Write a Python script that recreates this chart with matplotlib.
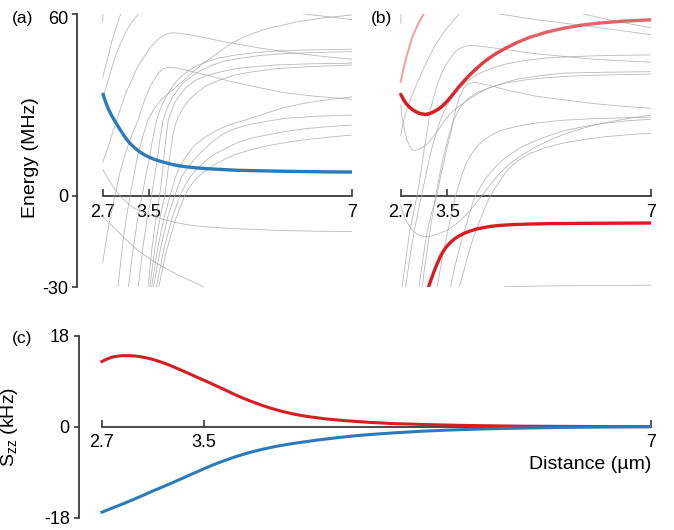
import matplotlib
matplotlib.use("Agg")
import matplotlib.pyplot as plt
import matplotlib.transforms as mtransforms
import numpy as np
from matplotlib.collections import LineCollection
from matplotlib.colors import to_rgb

plt.rcParams['font.family'] = ['Liberation Sans', 'DejaVu Sans']
plt.rcParams['mathtext.fontset'] = 'custom'
plt.rcParams['mathtext.rm'] = 'Liberation Sans'
plt.rcParams['mathtext.it'] = 'Liberation Sans'

# ---------------- data ----------------
xticks = [2.7, 3.5, 7]
xtick_labels = ['2.7', '3.5', '7']
e_ticks = [-30, 0, 60]
e_tick_labels = ['-30', '0', '60']
s_ticks = [-18, 0, 18]
s_tick_labels = ['-18', '0', '18']

# panel (a) highlighted level (blue)
a_blue_x = [2.70, 2.73, 2.76, 2.80, 2.85, 2.90, 2.95, 3.00, 3.05, 3.10, 3.15, 3.20, 3.25, 3.30, 3.35, 3.40,
            3.45, 3.50, 3.60, 3.70, 3.80, 3.90, 4.00, 4.15, 4.30, 4.50, 4.70, 5.00, 5.30, 5.70, 6.20, 6.60, 7.00]
a_blue_E = [34.0, 32.2, 30.5, 28.6, 26.7, 25.0, 23.4, 21.9, 20.4, 19.0, 17.8, 16.8, 15.9, 15.1, 14.4, 13.8,
            13.3, 12.8, 12.0, 11.4, 10.9, 10.4, 10.0, 9.6, 9.3, 9.0, 8.8, 8.5, 8.35, 8.2, 8.05, 7.95, 7.9]

# panel (b) highlighted levels (red)
b_red_up_x = [2.70, 2.75, 2.80, 2.85, 2.90, 2.95, 3.00, 3.05, 3.10, 3.15, 3.20, 3.25, 3.30, 3.35, 3.40, 3.45,
              3.50, 3.55, 3.60, 3.65, 3.70, 3.75, 3.80, 3.90, 4.00, 4.10, 4.20, 4.35, 4.50, 4.70, 4.90, 5.20,
              5.50, 5.80, 6.10, 6.50, 7.00]
b_red_up_E = [33.5, 31.7, 30.3, 29.3, 28.5, 27.9, 27.4, 27.1, 27.0, 27.0, 27.2, 27.6, 28.1, 28.7, 29.4, 30.3,
              31.3, 32.4, 33.6, 34.8, 36.0, 37.1, 38.2, 40.2, 42.0, 43.7, 45.2, 47.1, 48.7, 50.6, 52.2, 54.0,
              55.3, 56.3, 57.0, 57.6, 58.1]
b_red_faint_x = [2.70, 2.75, 2.8, 2.9, 3.0, 3.09]
b_red_faint_E = [37.7, 42.2, 46.0, 52.5, 56.8, 59.9]
b_red_low_x = [3.13, 3.16, 3.18, 3.22, 3.26, 3.30, 3.34, 3.38, 3.42, 3.46, 3.50, 3.55, 3.60, 3.65, 3.72, 3.80,
               3.90, 4.00, 4.10, 4.25, 4.40, 4.60, 4.90, 5.30, 6.00, 7.00]
b_red_low_E = [-33.0, -31.2, -29.9, -27.6, -25.5, -23.5, -21.7, -20.0, -18.6, -17.4, -16.4, -15.4, -14.5, -13.8,
               -13.0, -12.2, -11.5, -10.9, -10.5, -10.0, -9.7, -9.45, -9.25, -9.1, -9.0, -8.9]

# panel (c) Szz
c_x_red = [2.70, 2.74, 2.78, 2.82, 2.86, 2.90, 2.95, 3.00, 3.05, 3.10, 3.15, 3.20, 3.25, 3.30, 3.35, 3.40,
           3.46, 3.52, 3.58, 3.65, 3.72, 3.79, 3.87, 3.95, 4.03, 4.10, 4.20, 4.30, 4.45, 4.60, 4.80, 5.00,
           5.30, 5.60, 6.00, 6.50, 7.00]
c_red = [12.9, 13.4, 13.75, 13.95, 14.05, 14.05, 14.0, 13.85, 13.6, 13.3, 12.9, 12.45, 11.95, 11.4, 10.85, 10.3,
         9.6, 8.95, 8.25, 7.45, 6.6, 5.8, 5.0, 4.25, 3.6, 3.1, 2.5, 2.05, 1.55, 1.2, 0.85, 0.6,
         0.38, 0.22, 0.1, 0.04, 0.0]
c_x_blue = [2.70, 2.76, 2.82, 2.88, 2.95, 3.02, 3.10, 3.18, 3.25, 3.33, 3.41, 3.50, 3.58, 3.66, 3.75, 3.85,
            3.95, 4.05, 4.15, 4.27, 4.40, 4.55, 4.70, 4.85, 5.00, 5.20, 5.40, 5.65, 5.94, 6.30, 6.65, 7.00]
c_blue = [-16.9, -16.3, -15.7, -15.1, -14.35, -13.6, -12.7, -11.85, -11.1, -10.2, -9.3, -8.3, -7.45, -6.7,
          -5.9, -5.15, -4.5, -3.95, -3.5, -3.05, -2.6, -2.15, -1.75, -1.45, -1.2, -0.9, -0.68, -0.47, -0.3,
          -0.15, -0.06, 0.0]

# background levels, panel (a): (distance, energy) pairs
a_top = [(2.70, 57.5), (2.705, 60.5)]
a_lineA = [(2.70, 39), (2.74, 42.2), (2.78, 45), (2.85, 50.4), (2.93, 55.5), (3.02, 60.5)]
a_lineB = [(2.70, 32), (2.75, 35.3), (2.8, 38.5), (2.9, 45), (3.0, 50), (3.1, 54), (3.2, 57.3), (3.34, 60.5)]
a_hump1 = [(2.70, 11), (2.8, 16.5), (2.94, 25), (3.1, 34), (3.3, 42.5), (3.5, 48.5), (3.6, 50.7), (3.7, 52.3),
           (3.78, 53.2), (3.85, 53.7), (3.92, 53.8), (4.0, 53.7), (4.15, 53.3), (4.3, 52.8), (4.6, 51.6),
           (4.92, 50.4), (5.4, 48.8), (5.84, 47.5), (6.4, 46.2), (7.0, 45.1)]
a_hump2 = [(2.70, -22), (2.8, -10), (2.91, 0), (3.0, 8), (3.1, 14.5), (3.2, 20), (3.31, 25), (3.38, 29.3),
           (3.45, 33), (3.52, 36.2), (3.6, 38.8), (3.67, 40.7), (3.74, 41.9), (3.82, 42.4), (3.9, 42.4),
           (4.0, 42.1), (4.2, 41.2), (4.5, 39.8), (4.92, 37.7), (5.4, 35.7), (5.84, 34.0), (6.4, 32.8), (7.0, 31.9)]
a_rise = [(2.96, -30.5), (3.05, -15), (3.11, -7), (3.17, 0), (3.24, 7), (3.3, 13), (3.39, 19.5), (3.48, 25),
          (3.58, 28.5), (3.7, 31.5), (3.82, 33.6), (3.95, 35.7), (4.1, 38.2), (4.23, 40.5), (4.4, 43.3),
          (4.6, 46), (4.92, 50.4), (5.2, 53), (5.5, 55), (6.07, 57.5), (6.5, 58.7), (7.0, 59.7)]
a_topright = [(5.95, 60.5), (6.5, 59.3), (7.0, 58.1)]
a_p3 = [(3.14, -30.5), (3.22, -18), (3.3, -8), (3.38, 0), (3.44, 6.5), (3.5, 12), (3.56, 18.5), (3.63, 25),
        (3.7, 29), (3.8, 33), (3.9, 36), (4.0, 38.5), (4.15, 40.9), (4.3, 42.8), (4.5, 44.3), (4.7, 45.5),
        (5.0, 46.5), (5.3, 47.2), (5.7, 47.8), (6.1, 48.1), (7.0, 48.4)]
a_p4 = [(3.31, -30.5), (3.4, -16), (3.47, -7), (3.54, 0), (3.59, 6), (3.64, 12), (3.69, 19), (3.74, 25),
        (3.82, 29.3), (3.9, 32.5), (4.0, 35.3), (4.1, 37.5), (4.25, 39.7), (4.4, 41.5), (4.6, 43.2),
        (4.8, 44.5), (5.1, 45.5), (5.4, 46.3), (5.8, 46.9), (6.2, 47.2), (7.0, 47.6)]
a_p5 = [(3.48, -30.5), (3.55, -17), (3.62, -7), (3.68, 0), (3.72, 6), (3.75, 12), (3.79, 19), (3.83, 25),
        (3.89, 28.3), (3.95, 31), (4.05, 33.8), (4.15, 36), (4.3, 38.1), (4.5, 39.8), (4.75, 41), (5.0, 42),
        (5.3, 42.6), (5.7, 43.2), (6.3, 43.6), (7.0, 43.8)]
a_p6 = [(3.51, -30.5), (3.6, -17), (3.7, -6), (3.77, 0), (3.81, 6), (3.84, 11), (3.88, 16), (3.91, 20),
        (3.95, 23.3), (4.0, 26), (4.1, 29.4), (4.2, 32), (4.35, 34.5), (4.5, 36.5), (4.75, 38.5), (5.0, 40),
        (5.3, 41), (5.7, 42), (6.3, 42.7), (7.0, 43.2)]
a_p7 = [(3.54, -30.5), (3.65, -17), (3.76, -7), (3.86, 0), (3.95, 6), (4.02, 9.3), (4.1, 12), (4.2, 14.7),
        (4.3, 17), (4.5, 19.8), (4.7, 22), (4.92, 23.7), (5.15, 25), (5.5, 27.2), (5.8, 29), (6.1, 30.3),
        (6.4, 31.3), (7.0, 32.7)]
a_p8 = [(3.57, -30.5), (3.7, -17), (3.82, -7), (3.94, 0), (4.06, 6.4), (4.18, 9.8), (4.3, 12.5), (4.45, 15.4),
        (4.6, 18), (4.75, 20.1), (4.92, 21.8), (5.15, 23.2), (5.4, 24.2), (5.84, 25.6), (6.4, 26.3), (7.0, 26.7)]
a_p9 = [(3.62, -30.5), (3.76, -17), (3.9, -7), (4.03, 0), (4.12, 3.5), (4.21, 6.4), (4.35, 9.5), (4.5, 12),
        (4.65, 14), (4.8, 15.5), (5.03, 17.7), (5.25, 19.0), (5.5, 20), (5.85, 21.3), (6.2, 22.2),
        (6.6, 22.9), (7.0, 23.4)]
a_p10 = [(3.66, -30.5), (3.8, -18), (3.95, -8), (4.11, 0), (4.2, 3), (4.3, 5.5), (4.45, 8), (4.6, 10),
         (4.8, 12.1), (5.0, 13.8), (5.3, 15.5), (5.6, 16.8), (5.95, 17.9), (6.3, 18.8), (6.65, 19.5), (7.0, 20.1)]
a_low1 = [(2.70, 8.8), (2.8, 5.5), (2.9, 2.5), (3.0, 0), (3.1, -1.9), (3.2, -3.5), (3.35, -5.0), (3.5, -6.2),
          (3.65, -7.2), (3.8, -8), (4.0, -8.9), (4.2, -9.6), (4.5, -10.2), (4.9, -10.7), (5.3, -11.0),
          (5.8, -11.4), (6.4, -11.6), (7.0, -11.7)]
a_low2 = [(2.70, -6.8), (2.8, -8.7), (2.9, -10.5), (3.0, -12.4), (3.1, -14.3), (3.2, -16.1), (3.3, -17.8),
          (3.45, -19.9), (3.6, -21.8), (3.75, -23.5), (3.9, -25), (4.05, -26.5), (4.2, -27.8), (4.35, -29.1),
          (4.49, -30.5)]

# background levels, panel (b)
b_top = [(2.70, 57), (2.705, 60.5)]
b_steep = [(2.70, 20), (2.75, 25), (2.82, 29.4), (2.9, 33.5), (3.0, 38), (3.09, 42), (3.2, 46.3), (3.3, 50),
           (3.4, 52.9), (3.5, 55.5), (3.62, 58.2), (3.73, 60.5)]
b_hump1 = [(2.72, -30.5), (2.78, -22), (2.85, -12), (2.92, -5.5), (2.98, 0), (3.04, 7), (3.1, 15), (3.16, 22.2),
           (3.21, 28.4), (3.28, 33.6), (3.35, 38), (3.42, 41.3), (3.5, 44), (3.58, 46.2), (3.65, 47.8),
           (3.75, 49), (3.84, 49.5), (3.95, 49.6), (4.1, 49.3), (4.3, 48.8), (4.5, 48.3), (4.93, 47.1),
           (5.5, 46), (6.08, 45), (6.5, 44.6), (7.0, 44.1)]
b_hump2 = [(3.01, -30.5), (3.08, -21), (3.15, -12), (3.23, -5.5), (3.32, 0), (3.38, 6), (3.45, 12), (3.5, 16.3),
           (3.55, 20), (3.6, 24.7), (3.65, 29), (3.71, 32.6), (3.78, 35.5), (3.84, 36.8), (3.9, 37.3),
           (4.0, 37.4), (4.1, 37), (4.3, 36.1), (4.5, 35), (4.75, 34), (5.0, 33), (5.5, 31.7), (6.0, 30.5),
           (6.5, 29.6), (7.0, 28.9)]
b_valley_up = [(2.70, 30), (2.72, 26.2), (2.76, 22.1), (2.8, 19), (2.84, 16.9), (2.89, 15.4), (2.94, 15.0),
               (3.0, 15.3), (3.08, 16.1), (3.17, 17.4), (3.3, 20.5), (3.38, 22.7), (3.46, 25.1), (3.56, 27.3),
               (3.66, 29), (3.76, 30.4), (3.86, 31.7), (4.0, 33.4), (4.2, 35.5), (4.45, 37.2), (4.7, 38.5),
               (5.1, 39.7), (5.5, 40.5), (6.2, 40.8), (7.0, 41.0)]
b_valley_low = [(2.70, -3), (2.72, -4.6), (2.78, -7.6), (2.85, -10), (2.92, -11.7), (3.0, -12.8), (3.1, -13.4),
                (3.2, -13.3), (3.3, -12.8), (3.4, -12.1), (3.5, -11.2), (3.6, -10.0), (3.7, -8.5), (3.82, -6.2),
                (3.95, -3.5), (4.05, -1.0), (4.15, 1.5), (4.25, 4.0), (4.35, 6.4), (4.47, 8.8), (4.6, 11),
                (4.8, 13.7), (5.0, 16), (5.3, 18.8), (5.6, 21), (5.95, 23), (6.3, 24.5), (6.65, 25.7), (7.0, 26.7)]
b_r1 = [(3.55, -30.5), (3.62, -24), (3.7, -18), (3.78, -12.5), (3.85, -8), (3.95, -1.3), (4.05, 2.4),
        (4.15, 5.5), (4.25, 8), (4.35, 10), (4.47, 12.2), (4.6, 14), (4.75, 15.9), (4.93, 17.5), (5.2, 19.6),
        (5.5, 21.5), (5.85, 22.9), (6.2, 24), (6.6, 24.8), (7.0, 25.3)]
b_r2 = [(3.70, -30.5), (3.78, -25), (3.85, -20), (3.92, -15.3), (4.0, -11), (4.07, -7.6), (4.13, -4.6),
        (4.2, -1.5), (4.3, 2), (4.42, 5.5), (4.53, 8.6), (4.7, 11.5), (4.93, 14.1), (5.2, 16), (5.5, 17.5),
        (5.85, 18.6), (6.2, 19.5), (6.6, 20.2), (7.0, 20.7)]
b_r3 = [(3.32, -30.5), (3.39, -23), (3.45, -17), (3.5, -12.3), (3.55, -8), (3.6, -3.8), (3.64, 0), (3.7, 3.8),
        (3.75, 7), (3.82, 10.5), (3.9, 13.5), (4.0, 16.1), (4.1, 18), (4.25, 20), (4.4, 21.5), (4.7, 23),
        (5.0, 24), (5.5, 25), (6.0, 25.5), (7.0, 26.0)]
b_r4 = [(2.78, -30.5), (2.84, -22.5), (2.9, -15), (2.95, -9.8), (3.0, -5), (3.05, -0.4), (3.1, 4), (3.15, 8.6),
        (3.2, 13), (3.25, 16.8), (3.3, 20), (3.38, 25), (3.44, 27.7), (3.5, 30), (3.6, 33), (3.7, 35.5),
        (3.85, 38), (4.0, 40), (4.25, 42), (4.5, 43.5), (4.85, 44.7), (5.2, 45.5), (5.6, 45.9), (6.0, 46.2),
        (6.5, 46.4), (7.0, 46.5)]
b_r5 = [(3.07, -30.5), (3.1, -25), (3.15, -18.2), (3.2, -12), (3.25, -5.8), (3.3, 0), (3.35, 5.2), (3.4, 10),
        (3.45, 14.2), (3.5, 18), (3.55, 21.6), (3.61, 25), (3.68, 27.8), (3.75, 30), (3.87, 32.3), (4.0, 34),
        (4.25, 35.9), (4.5, 37.2), (4.85, 38.3), (5.2, 39), (5.6, 39.5), (6.0, 39.8), (6.5, 40.0), (7.0, 40.2)]
b_top1 = [(4.21, 60.5), (4.6, 59.4), (5.0, 58.2), (5.5, 57.0), (6.0, 55.8), (6.5, 54.5), (7.0, 53.2)]
b_top2 = [(5.72, 60.5), (6.0, 59.3), (6.3, 58.0), (6.65, 56.7), (7.0, 55.5)]
b_bottom = [(4.40, -30.5), (4.5, -29.9), (5.0, -29.7), (5.5, -29.6), (6.2, -29.5), (7.0, -29.4)]

gray_a = [a_top, a_lineA, a_lineB, a_hump1, a_hump2, a_rise, a_topright, a_p3, a_p4, a_p5, a_p6,
          a_p7, a_p8, a_p9, a_p10, a_low1, a_low2]
gray_b = [b_top, b_steep, b_hump1, b_hump2, b_valley_up, b_valley_low, b_r1, b_r2, b_r3, b_r4, b_r5,
          b_top1, b_top2, b_bottom]

# ---------------- style ----------------
BLUE = '#2b7bba'
RED = '#d81c22'
AX = '#3a3a3a'
GRAY = '#a8a8a8'
TICK_FS = 13
LAB_FS = 14

W, H = 674, 530
fig = plt.figure(figsize=(W / 100, H / 100), dpi=100)


def px_axes(left, top, right, bottom):
    return fig.add_axes([left / W, 1 - bottom / H, (right - left) / W, (bottom - top) / H])


ax_a = px_axes(77, 14, 352.2, 287)
ax_b = px_axes(375.0, 14, 651, 287)
ax_c = px_axes(78.7, 335.7, 651, 517.7)


def style(ax, xlim, ylim, yticks, ylabels, show_y):
    ax.set_xlim(xlim)
    ax.set_ylim(ylim)
    ax.patch.set_alpha(0)
    for s in ['top', 'right']:
        ax.spines[s].set_visible(False)
    ax.spines['bottom'].set_position(('data', 0))
    ax.spines['bottom'].set_bounds(2.7, 7)
    ax.spines['bottom'].set_color(AX)
    ax.spines['bottom'].set_linewidth(1.3)
    ax.spines['bottom'].set_zorder(1)
    ax.set_xticks(xticks)
    ax.set_xticklabels(xtick_labels)
    ax.tick_params(axis='x', direction='in', length=5, width=1.2, color=AX, pad=5.5,
                   labelsize=TICK_FS, labelcolor='black')
    if show_y:
        ax.spines['left'].set_bounds(ylim[0], ylim[1])
        ax.spines['left'].set_color(AX)
        ax.spines['left'].set_linewidth(1.3)
        ax.set_yticks(yticks)
        ax.set_yticklabels(ylabels)
        ax.tick_params(axis='y', direction='out', length=3.5, width=1.2, color=AX, pad=3,
                       labelsize=TICK_FS, labelcolor='black')
    else:
        ax.spines['left'].set_visible(False)
        ax.set_yticks([])


xlim_ab = (2.7 - 25.7 / 58.1, 7.0)
style(ax_a, xlim_ab, (-30, 60), e_ticks, e_tick_labels, True)
style(ax_b, xlim_ab, (-30, 60), e_ticks, e_tick_labels, False)
style(ax_c, (2.7 - 23.3 / 127.7, 7.0), (-18, 18), s_ticks, s_tick_labels, True)

# the top energy tick label sits a little below its tick in the reference
top_lab = ax_a.get_yticklabels()[-1]
top_lab.set_transform(top_lab.get_transform() +
                      mtransforms.ScaledTranslation(0, -4 / 100, fig.dpi_scale_trans))

for ax, curves in [(ax_a, gray_a), (ax_b, gray_b)]:
    for cv in curves:
        xs, es = zip(*cv)
        ax.plot(xs, es, color=GRAY, lw=0.6, alpha=0.8, zorder=2, solid_joinstyle='round')

ax_a.plot(a_blue_x, a_blue_E, color=BLUE, lw=2.4, zorder=4, solid_capstyle='butt', solid_joinstyle='round')

# upper red level fades slightly toward larger distance (opaque blend with white)
pts = np.column_stack([b_red_up_x, b_red_up_E]).reshape(-1, 1, 2)
segs = np.concatenate([pts[:-1], pts[1:]], axis=1)
mix = np.clip((np.array(b_red_up_x[:-1]) - 3.4) / 1.5, 0, 1) * 0.32
base = np.array(to_rgb(RED))
cols = [tuple(base * (1 - m) + np.ones(3) * m) for m in mix]
lc = LineCollection(segs, colors=cols, linewidths=2.4, zorder=4, capstyle='round', joinstyle='round')
ax_b.add_collection(lc)
ax_b.plot(b_red_faint_x, b_red_faint_E, color='#eea3a5', lw=1.5, zorder=3)
ax_b.plot(b_red_low_x, b_red_low_E, color=RED, lw=2.4, zorder=4, solid_capstyle='butt', solid_joinstyle='round')

ax_c.plot(c_x_red, c_red, color=RED, lw=2.2, zorder=4, solid_joinstyle='round')
ax_c.plot(c_x_blue, c_blue, color=BLUE, lw=2.2, zorder=4, solid_joinstyle='round')

# labels
ax_a.set_ylabel('Energy (MHz)', fontsize=LAB_FS, labelpad=0)
ax_a.yaxis.set_label_coords(-0.138, 0.475)
ax_c.set_ylabel(r'S$_{\mathrm{zz}}$ (kHz)', fontsize=LAB_FS)
ax_c.yaxis.set_label_coords(-0.1026, 0.5)
ax_c.text(1.0, 0.29, 'Distance (µm)', transform=ax_c.transAxes, ha='right', va='center',
          fontsize=LAB_FS)

fig.text(12 / W, 1 - 18 / H, '(a)', fontsize=12.5, ha='left', va='center')
fig.text(371 / W, 1 - 18 / H, '(b)', fontsize=12.5, ha='left', va='center')
fig.text(12 / W, 1 - 339 / H, '(c)', fontsize=12.5, ha='left', va='center')

fig.savefig('out.png', dpi=100)
